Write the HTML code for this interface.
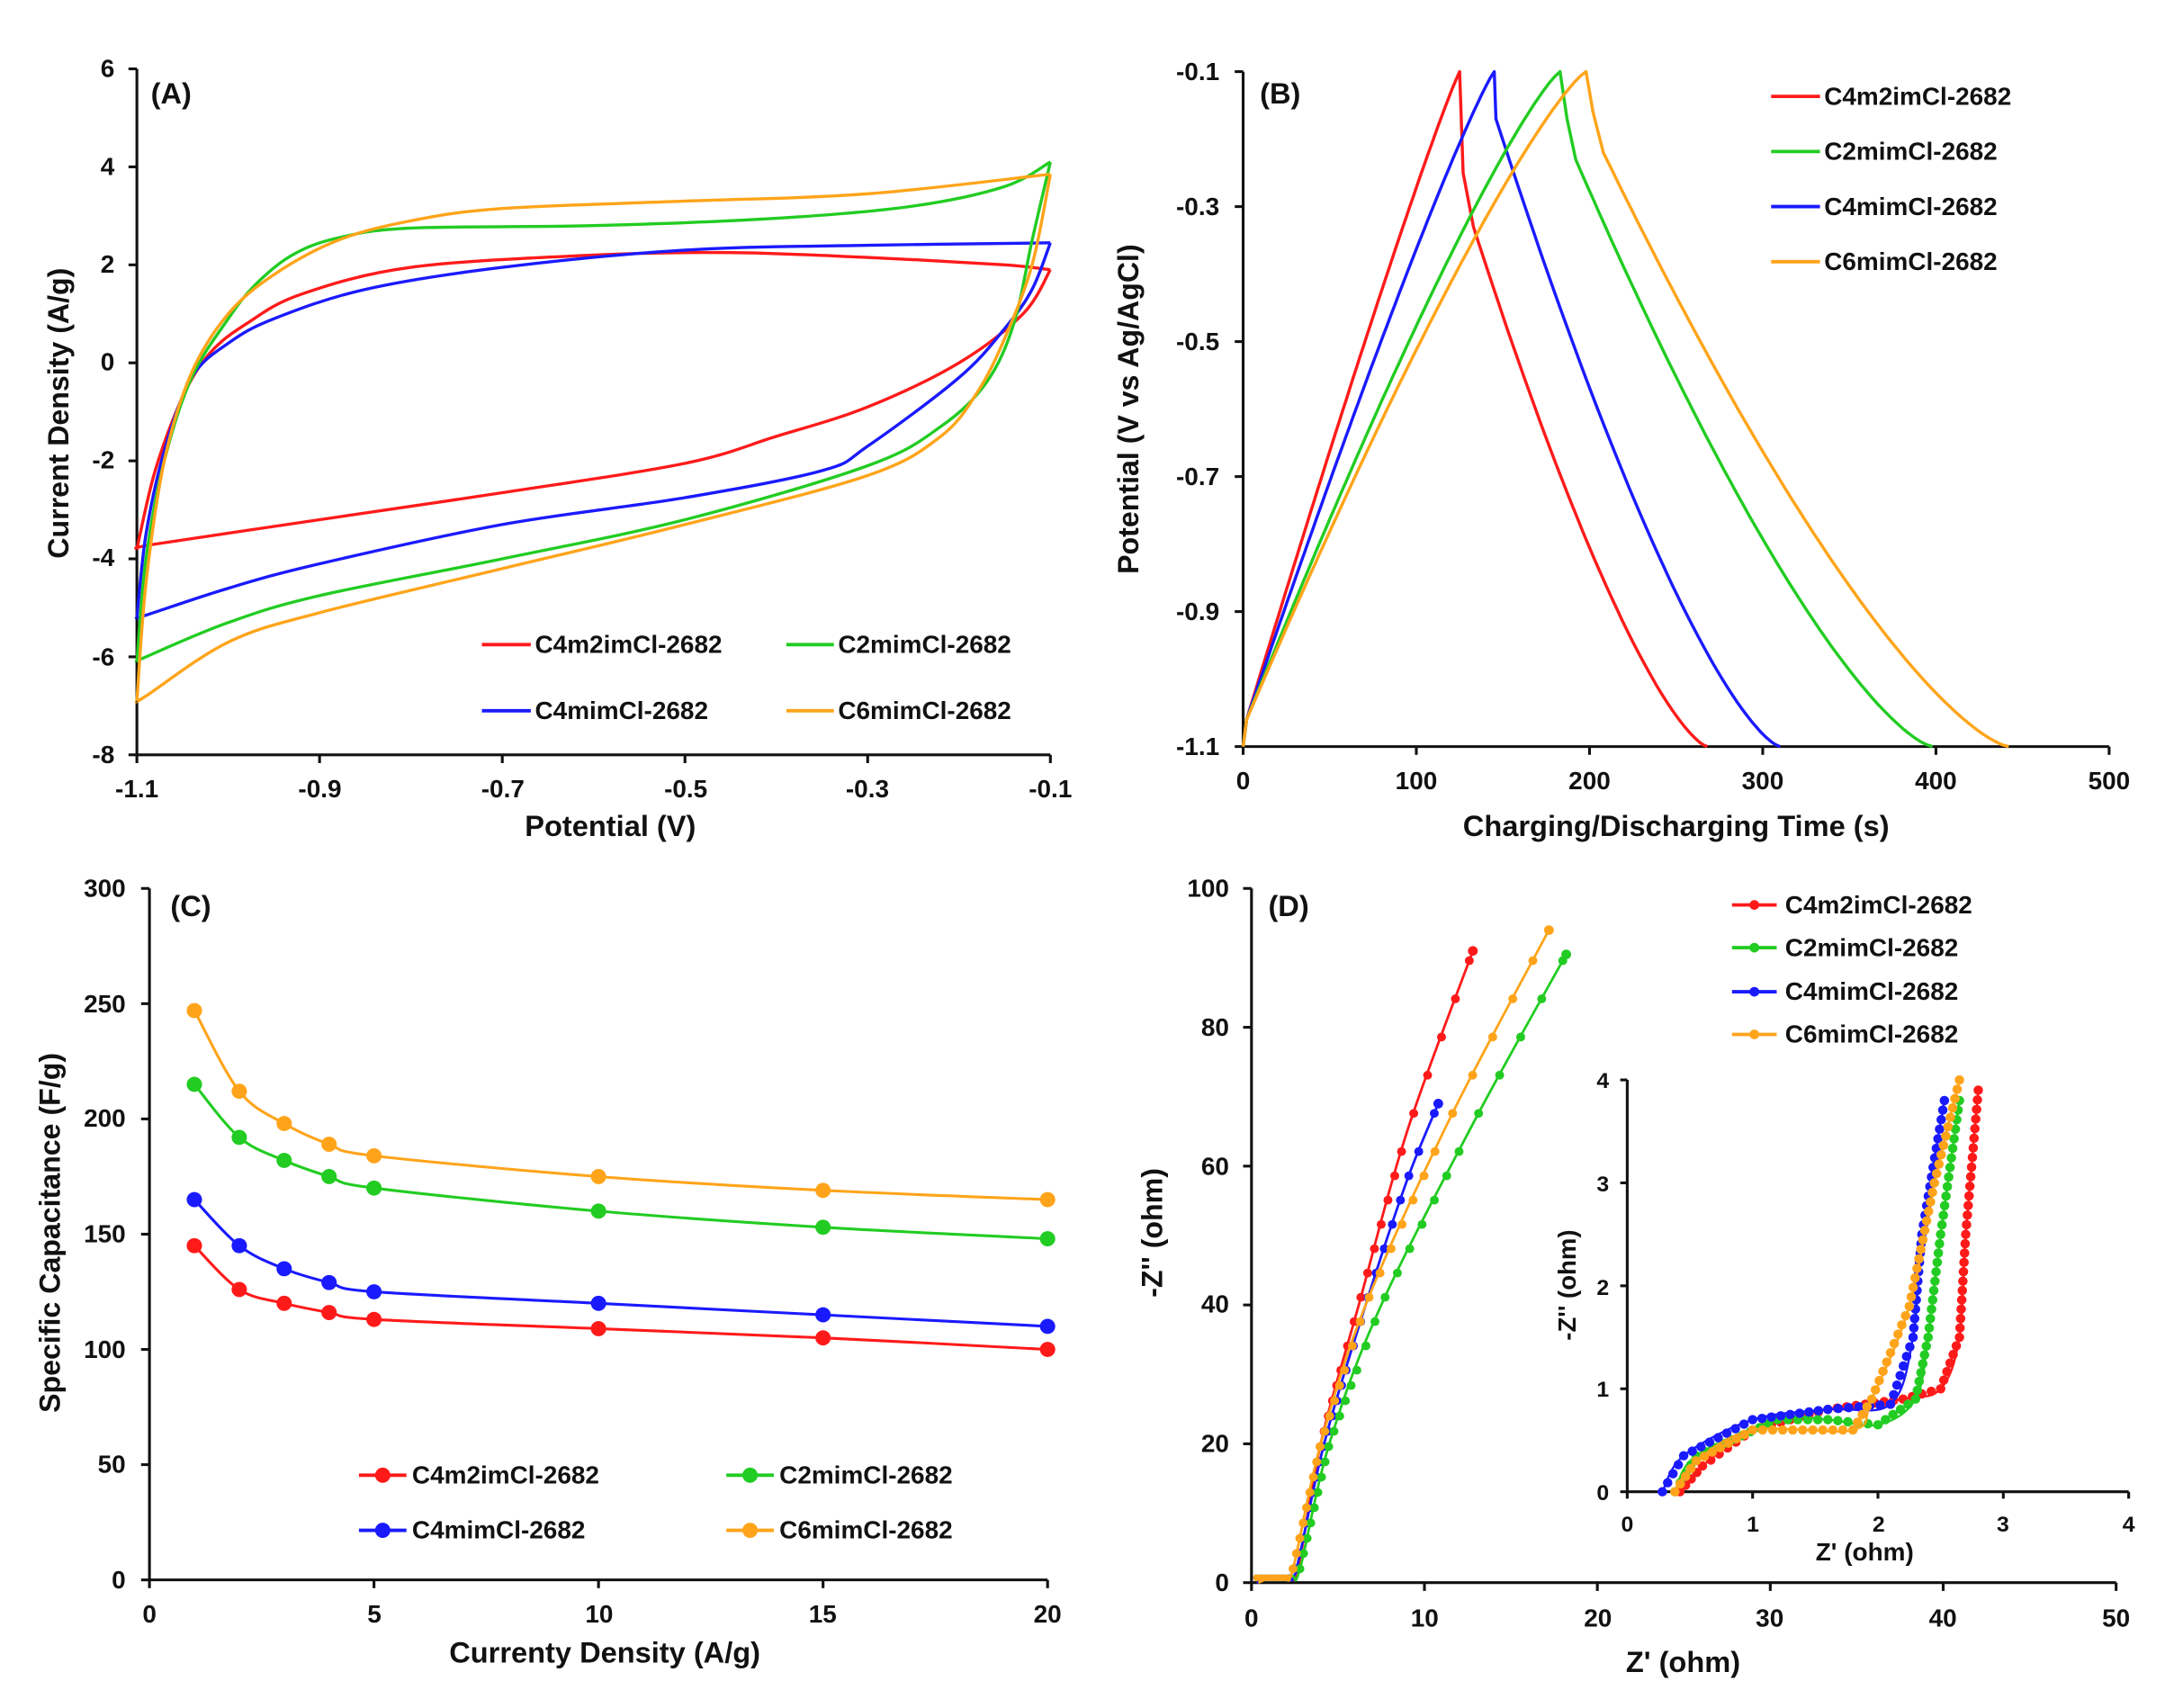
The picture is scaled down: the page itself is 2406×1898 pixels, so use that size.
<!DOCTYPE html>
<html><head><meta charset="utf-8"><style>
html,body{margin:0;padding:0;background:#fff;}
svg{display:block;}
text{font-family:"Liberation Sans",Arial,sans-serif;font-weight:bold;fill:#111;}
.t{font-size:18px;}
.ti{font-size:21px;}
.lg{font-size:18px;}
</style></head><body>
<svg id="s" xmlns="http://www.w3.org/2000/svg" width="2406" height="1898" viewBox="0 0 1550 1240" preserveAspectRatio="none">
<rect width="1550" height="1240" fill="#fff"/>
<g id="axes" stroke="#111" stroke-width="2" fill="none"></g>
<g id="curves"></g>
<text x="108" y="75" class="ti">(A)</text>
<g class="t" text-anchor="end">
<text x="82" y="56">6</text><text x="82" y="127">4</text><text x="82" y="198">2</text><text x="82" y="269">0</text>
<text x="82" y="340">-2</text><text x="82" y="411">-4</text><text x="82" y="483">-6</text><text x="82" y="554">-8</text>
</g>
<g class="t" text-anchor="middle">
<text x="98" y="579">-1.1</text><text x="229" y="579">-0.9</text><text x="360" y="579">-0.7</text><text x="491" y="579">-0.5</text><text x="621" y="579">-0.3</text><text x="752" y="579">-0.1</text>
</g>
<text x="437" y="607" class="ti" text-anchor="middle">Potential (V)</text>
<text transform="translate(49,300) rotate(-90)" class="ti" text-anchor="middle">Current Density (A/g)</text>
<g class="lg"><text x="383" y="474">C4m2imCl-2682</text><text x="600" y="474">C2mimCl-2682</text><text x="383" y="522">C4mimCl-2682</text><text x="600" y="522">C6mimCl-2682</text></g>
<text x="902" y="75" class="ti">(B)</text>
<g class="t" text-anchor="end">
<text x="873" y="58">-0.1</text><text x="873" y="156">-0.3</text><text x="873" y="254">-0.5</text><text x="873" y="352">-0.7</text><text x="873" y="450">-0.9</text><text x="873" y="548">-1.1</text>
</g>
<g class="t" text-anchor="middle">
<text x="890" y="573">0</text><text x="1014" y="573">100</text><text x="1138" y="573">200</text><text x="1262" y="573">300</text><text x="1386" y="573">400</text><text x="1510" y="573">500</text>
</g>
<text x="1200" y="607" class="ti" text-anchor="middle">Charging/Discharging Time (s)</text>
<text transform="translate(815,297) rotate(-90)" class="ti" text-anchor="middle">Potential (V vs Ag/AgCl)</text>
<g class="lg"><text x="1306" y="76">C4m2imCl-2682</text><text x="1306" y="116">C2mimCl-2682</text><text x="1306" y="156">C4mimCl-2682</text><text x="1306" y="196">C6mimCl-2682</text></g>
<text x="122" y="665" class="ti">(C)</text>
<g class="t" text-anchor="end">
<text x="90" y="651">300</text><text x="90" y="735">250</text><text x="90" y="818">200</text><text x="90" y="902">150</text><text x="90" y="986">100</text><text x="90" y="1069">50</text><text x="90" y="1153">0</text>
</g>
<g class="t" text-anchor="middle">
<text x="107" y="1178">0</text><text x="268" y="1178">5</text><text x="429" y="1178">10</text><text x="589" y="1178">15</text><text x="750" y="1178">20</text>
</g>
<text x="433" y="1207" class="ti" text-anchor="middle">Currenty Density (A/g)</text>
<text transform="translate(43,895) rotate(-90)" class="ti" text-anchor="middle">Specific Capacitance (F/g)</text>
<g class="lg"><text x="295" y="1077">C4m2imCl-2682</text><text x="558" y="1077">C2mimCl-2682</text><text x="295" y="1117">C4mimCl-2682</text><text x="558" y="1117">C6mimCl-2682</text></g>
<text x="908" y="665" class="ti">(D)</text>
<g class="t" text-anchor="end">
<text x="880" y="651">100</text><text x="880" y="752">80</text><text x="880" y="853">60</text><text x="880" y="953">40</text><text x="880" y="1054">20</text><text x="880" y="1155">0</text>
</g>
<g class="t" text-anchor="middle">
<text x="896" y="1181">0</text><text x="1020" y="1181">10</text><text x="1144" y="1181">20</text><text x="1267" y="1181">30</text><text x="1391" y="1181">40</text><text x="1515" y="1181">50</text>
</g>
<text x="1205" y="1214" class="ti" text-anchor="middle">Z' (ohm)</text>
<text transform="translate(832,895) rotate(-90)" class="ti" text-anchor="middle">-Z'' (ohm)</text>
<g class="lg"><text x="1278" y="663">C4m2imCl-2682</text><text x="1278" y="694">C2mimCl-2682</text><text x="1278" y="726">C4mimCl-2682</text><text x="1278" y="757">C6mimCl-2682</text></g>
<g class="t" text-anchor="end" style="font-size:16px">
<text x="1152" y="790">4</text><text x="1152" y="865">3</text><text x="1152" y="940">2</text><text x="1152" y="1014">1</text><text x="1152" y="1089">0</text>
</g>
<g class="t" text-anchor="middle" style="font-size:16px">
<text x="1165" y="1112">0</text><text x="1255" y="1112">1</text><text x="1345" y="1112">2</text><text x="1434" y="1112">3</text><text x="1524" y="1112">4</text>
</g>
<text x="1335" y="1133" class="t" text-anchor="middle">Z' (ohm)</text>
<text transform="translate(1128,933) rotate(-90)" class="t" text-anchor="middle">-Z'' (ohm)</text>
</svg>
<script>
var NS="http://www.w3.org/2000/svg";
var AX=document.getElementById('axes'),CV=document.getElementById('curves');
var R='#ff1a1a',G='#22cc22',B='#1a1aff',O='#ffa41a';
function el(n,a,p){var e=document.createElementNS(NS,n);for(var k in a)e.setAttribute(k,a[k]);(p||CV).appendChild(e);return e;}
function line(x1,y1,x2,y2,p,c,w){el('line',{x1:x1,y1:y1,x2:x2,y2:y2,stroke:c||'#111','stroke-width':w||2},p||AX);}
function axes(x0,x1,y0,y1,xt,yt,tl){line(x0,y0,x0,y1);line(x0,y0,x1,y0);
 xt.forEach(function(x){line(x,y0,x,y0+tl);});yt.forEach(function(y){line(x0-tl,y,x0,y);});}
function rng(a,b,n){var r=[];for(var i=0;i<n;i++)r.push(a+(b-a)*i/(n-1));return r;}
axes(98,752,548,50,rng(98,752,6),rng(50,548,8),6);
axes(890,1510,542,52,rng(890,1510,6),rng(52,542,6),6);
axes(107,750,1147,645,rng(107,750,5),rng(645,1147,7),6);
axes(896,1515,1149,645,rng(896,1515,6),rng(645,1149,6),6);
axes(1165,1524,1083,784,rng(1165,1524,5),rng(784,1083,5),5);
function cr(pts){
 var d='M'+pts[0][0].toFixed(1)+','+pts[0][1].toFixed(1);
 for(var i=0;i<pts.length-1;i++){var p0=pts[i-1]||pts[i],p1=pts[i],p2=pts[i+1],p3=pts[i+2]||p2;
  d+='C'+(p1[0]+(p2[0]-p0[0])/6).toFixed(1)+','+(p1[1]+(p2[1]-p0[1])/6).toFixed(1)+' '+(p2[0]-(p3[0]-p1[0])/6).toFixed(1)+','+(p2[1]-(p3[1]-p1[1])/6).toFixed(1)+' '+p2[0].toFixed(1)+','+p2[1].toFixed(1);}
 return d;}
function path(pts,c,w){el('path',{d:cr(pts),stroke:c,'stroke-width':w||2,fill:'none'});}
function poly(pts,c,w){el('polyline',{points:pts.map(function(p){return p[0].toFixed(1)+','+p[1].toFixed(1);}).join(' '),stroke:c,'stroke-width':w||2,fill:'none','stroke-linejoin':'round'});}
function ta(p){return [98+(p[0]+1.1)*654,50+(6-p[1])*498/14];}
var A={
R:[[[-1.1,-3.8],[-1.08,-2.2],[-1.05,-0.7],[-1.02,0.2],[-0.98,0.8],[-0.92,1.4],[-0.8,1.95],[-0.6,2.2],[-0.45,2.25],[-0.3,2.15],[-0.15,2.0],[-0.1,1.9]],
   [[-0.1,1.9],[-0.13,1.0],[-0.2,0.0],[-0.3,-0.9],[-0.4,-1.5],[-0.5,-2.05],[-0.7,-2.65],[-0.9,-3.2],[-1.08,-3.7],[-1.1,-3.8]]],
B:[[[-1.1,-5.2],[-1.09,-3.5],[-1.07,-1.8],[-1.04,-0.3],[-1.0,0.4],[-0.95,0.9],[-0.85,1.5],[-0.7,1.95],[-0.5,2.3],[-0.3,2.4],[-0.1,2.45]],
   [[-0.1,2.45],[-0.12,1.5],[-0.15,0.7],[-0.2,-0.3],[-0.3,-1.7],[-0.35,-2.2],[-0.5,-2.75],[-0.7,-3.3],[-0.9,-4.1],[-1.0,-4.6],[-1.09,-5.15],[-1.1,-5.2]]],
G:[[[-1.1,-6.1],[-1.09,-4.0],[-1.07,-2.0],[-1.04,-0.3],[-1.0,0.9],[-0.97,1.6],[-0.93,2.2],[-0.88,2.55],[-0.8,2.75],[-0.6,2.8],[-0.4,2.95],[-0.25,3.2],[-0.15,3.6],[-0.1,4.1]],
   [[-0.1,4.1],[-0.12,2.5],[-0.14,0.8],[-0.17,-0.4],[-0.22,-1.3],[-0.3,-2.1],[-0.5,-3.2],[-0.7,-4.0],[-0.9,-4.75],[-1.0,-5.3],[-1.09,-6.0],[-1.1,-6.1]]],
O:[[[-1.1,-6.9],[-1.09,-4.5],[-1.07,-2.0],[-1.04,-0.2],[-1.0,1.0],[-0.95,1.8],[-0.88,2.5],[-0.8,2.9],[-0.7,3.15],[-0.5,3.3],[-0.3,3.45],[-0.1,3.85]],
   [[-0.1,3.85],[-0.12,2.0],[-0.15,0.5],[-0.18,-0.6],[-0.22,-1.5],[-0.3,-2.3],[-0.5,-3.3],[-0.7,-4.2],[-0.9,-5.1],[-1.0,-5.7],[-1.09,-6.8],[-1.1,-6.9]]]};
var col={R:R,G:G,B:B,O:O};
['R','B','G','O'].forEach(function(k){A[k].forEach(function(s){path(s.map(ta),col[k],2.2);});});
line(345,468,380,468,CV,R,2.5);line(563,468,597,468,CV,G,2.5);line(345,516,380,516,CV,B,2.5);line(563,516,597,516,CV,O,2.5);
// Panel B
function tb(p){return [890+p[0]*1.24,52+(-0.1-p[1])*490];}
// [tpeak, drop points..., tend, charge exponent]
var Bp={R:[125,[[127,-0.25],[133,-0.33]],268,1.08],
        B:[145,[[146,-0.17]],310,1.12],
        G:[183,[[187,-0.17],[192,-0.23]],398,1.2],
        O:[198,[[202,-0.16],[208,-0.22]],442,1.22]};
['R','B','G','O'].forEach(function(k){var tp=Bp[k][0],dr=Bp[k][1],te=Bp[k][2],r=Bp[k][3];var pts=[[0,-1.1]];
 for(var i=0;i<=60;i++){var s=i/60;var f=1-Math.pow(1-s,r);pts.push([2+(tp-2)*s,-1.06+0.96*f]);}
 dr.forEach(function(p){pts.push(p);});
 var t0=dr[dr.length-1][0],v0=dr[dr.length-1][1];
 for(var i=1;i<=60;i++){var s=i/60;var f=1-Math.pow(1-s,1.4);pts.push([t0+(te-t0)*s,v0-(v0+1.1)*f]);}
 poly(pts.map(tb),col[k],2.2);});
[[70,R],[110,G],[150,B],[190,O]].forEach(function(a){line(1268,a[0],1303,a[0],CV,a[1],2.5);});
// Panel C
function tc(p){return [107+p[0]*32.15,1147-p[1]*502/300];}
var X=[1,2,3,4,5,10,15,20];
var Cd={O:[247,212,198,189,184,175,169,165],G:[215,192,182,175,170,160,153,148],B:[165,145,135,129,125,120,115,110],R:[145,126,120,116,113,109,105,100]};
['R','B','G','O'].forEach(function(k){var pts=X.map(function(x,i){return tc([x,Cd[k][i]]);});path(pts,col[k],2);
 pts.forEach(function(p){el('circle',{cx:p[0],cy:p[1],r:5.5,fill:col[k]});});});
[[257,1071,R],[520,1071,G],[257,1111,B],[520,1111,O]].forEach(function(a){line(a[0],a[1],a[0]+34,a[1],CV,a[2],2.5);el('circle',{cx:a[0]+17,cy:a[1],r:5.5,fill:a[2]});});
// Panel D
function td(p){return [896+p[0]*12.38,1149-p[1]*5.04];}
var Dm={R:[[0.3,0],[1,0.8],[2.2,1],[2.7,2],[4,20],[6.2,40],[9,65],[12.8,91]],
B:[[0.3,0],[1,0.9],[2.1,1],[2.6,2],[4.2,20],[6.6,40],[9,58],[10.8,69]],
G:[[0.4,0],[1,0.7],[2.3,1],[2.8,2],[4.5,20],[7.5,40],[13,67],[18.2,90.5]],
O:[[0.4,0],[1,0.6],[1.9,0.9],[2.4,2],[4,20],[6.6,40],[11.5,67],[17.2,94]]};
['R','B','G','O'].forEach(function(k){var pts=Dm[k].map(td);path(pts,col[k],1.8);
 var d=Dm[k],n=d.length;var top=d[n-1][1];
 for(var y=2;y<=top;y+= (y<30?2.2:(y<60?3.5:5.5))){
  var i=1;while(i<n-1&&d[i+1][1]<y)i++;var a=d[i],b=d[Math.min(i+1,n-1)];var t=(y-a[1])/((b[1]-a[1])||1);
  var q=td([a[0]+(b[0]-a[0])*t,y]);el('circle',{cx:q[0],cy:q[1],r:3.2,fill:col[k]});}
 var e=td(d[n-1]);el('circle',{cx:e[0],cy:e[1],r:3.5,fill:col[k]});
 for(var x=0.3;x<2.3;x+=0.25){var q=td([x,0.7]);el('circle',{cx:q[0],cy:q[1],r:2.5,fill:col[k]});}
});
[[657,R],[688,G],[720,B],[751,O]].forEach(function(a){line(1240,a[0],1272,a[0],CV,a[1],2.5);el('circle',{cx:1256,cy:a[0],r:3.5,fill:a[1]});});
function ti(p){return [1165+p[0]*89.75,1083-p[1]*74.75];}
var In={
R:[[0.42,0],[0.6,0.25],[1.0,0.6],[1.6,0.8],[2.2,0.9],[2.5,1.0],[2.65,1.5],[2.7,2.5],[2.8,3.9]],
G:[[0.38,0],[0.55,0.35],[1.2,0.7],[1.6,0.7],[2.0,0.65],[2.3,0.9],[2.4,1.5],[2.5,2.5],[2.65,3.8]],
B:[[0.28,0],[0.45,0.35],[1.0,0.7],[1.6,0.8],[2.1,0.85],[2.28,1.5],[2.35,2.5],[2.53,3.8]],
O:[[0.38,0],[0.55,0.3],[1.0,0.6],[1.8,0.6],[1.95,0.9],[2.25,1.8],[2.45,3.0],[2.65,4.0]]};
['R','G','B','O'].forEach(function(k){var d=In[k];path(d.map(ti),col[k],1.5);
 for(var i=0;i<d.length-1;i++){var a=ti(d[i]),b=ti(d[i+1]);var L=Math.hypot(b[0]-a[0],b[1]-a[1]);var m=Math.max(1,Math.round(L/7));
  for(var j=0;j<m;j++){var t=j/m;el('circle',{cx:a[0]+(b[0]-a[0])*t,cy:a[1]+(b[1]-a[1])*t,r:3.4,fill:col[k]});}}
 var e=ti(d[d.length-1]);el('circle',{cx:e[0],cy:e[1],r:3.4,fill:col[k]});});
</script>
</body></html>
